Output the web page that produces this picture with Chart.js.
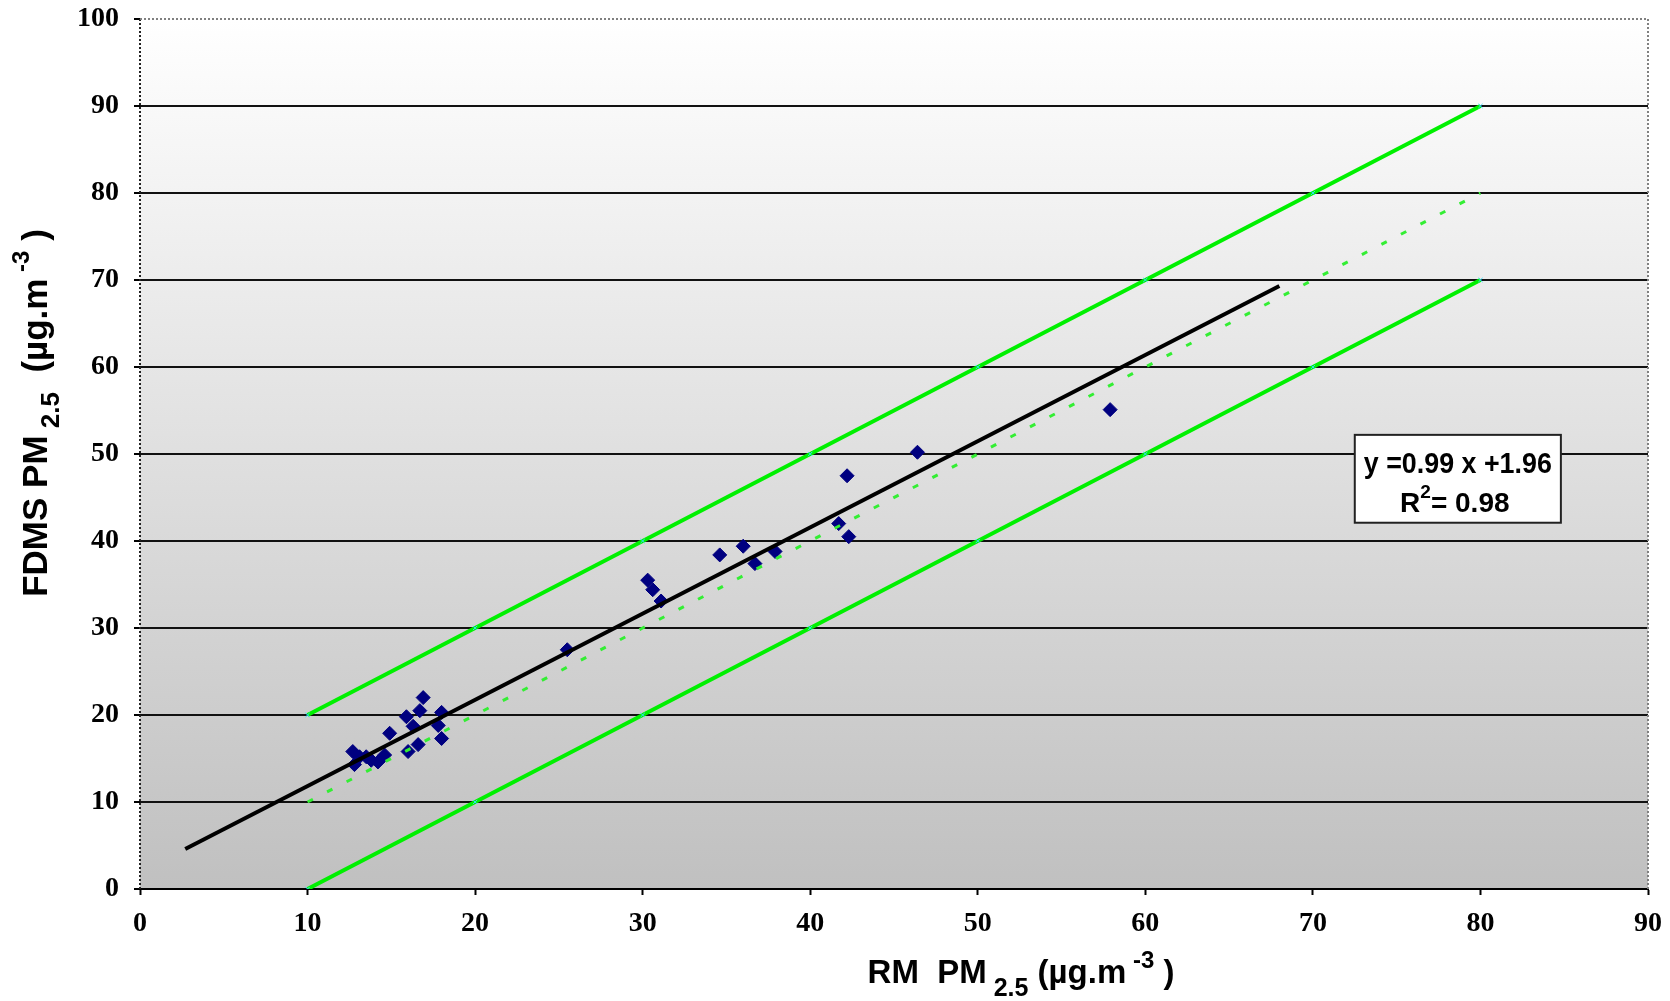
<!DOCTYPE html>
<html>
<head>
<meta charset="utf-8">
<script src="https://cdn.jsdelivr.net/npm/chart.js@4"></script>
<style>
  html, body { margin: 0; padding: 0; background: #fff; }
  #wrap { width: 1670px; height: 1001px; }
</style>
</head>
<body>
<div id="wrap"><canvas id="myChart" width="1670" height="1001"></canvas></div>
<script>
// RM vs FDMS PM2.5 measurements
var rmX = [12.7, 13.1, 12.8, 13.5, 13.8, 14.2, 14.6, 14.9, 15.9, 16.0, 16.3, 16.6, 16.7, 16.9, 17.8, 18.0, 18.0,
    25.5, 30.3, 30.6, 31.1, 34.6, 36.0, 36.7, 37.9, 41.7, 42.2, 42.3, 46.4, 57.9];
var fdmsY = [15.8, 15.2, 14.3, 15.2, 14.8, 14.6, 15.4, 17.9, 19.8, 15.8, 18.7, 16.6, 20.5, 22.0, 18.8, 20.3, 17.3,
    27.5, 35.5, 34.4, 33.1, 38.4, 39.4, 37.4, 38.8, 42.0, 47.5, 40.5, 50.2, 55.1];

// regression line ends
var fitX = [2.7, 68.0];
var fitY = [4.6, 69.3];

// 1:1 line and +/-10 band
var bandX = [10, 20, 30, 40, 50, 60, 70, 80];
var upperY = [20, 30, 40, 50, 60, 70, 80, 90];
var lowerY = [0, 10, 20, 30, 40, 50, 60, 70];
var equalY = [10, 20, 30, 40, 50, 60, 70, 80];

var xTicks = [0, 10, 20, 30, 40, 50, 60, 70, 80, 90];
var yTicks = [0, 10, 20, 30, 40, 50, 60, 70, 80, 90, 100];

var eqLine1 = "y =0.99 x +1.96";
var eqLine2 = ["R", "2", "= 0.98"];

function pts(xs, ys) {
    return xs.map(function (x, i) { return {x: x, y: ys[i]}; });
}

var sans = "'Liberation Sans', Arial, sans-serif";
var serif = "'Liberation Serif', 'Times New Roman', serif";

function drawRich(ctx, parts, cx, cy) {
    var total = 0;
    parts.forEach(function (p) {
        ctx.font = "bold " + p.size + "px " + sans;
        p.w = ctx.measureText(p.t).width;
        total += p.w;
    });
    var x = cx - total / 2;
    ctx.textBaseline = "alphabetic";
    ctx.textAlign = "left";
    parts.forEach(function (p) {
        ctx.font = "bold " + p.size + "px " + sans;
        ctx.fillText(p.t, x, cy + (p.dy || 0));
        x += p.w;
    });
}

function noPad(s) {
    s.paddingTop = 0;
    s.paddingBottom = 0;
    s.paddingLeft = 0;
    s.paddingRight = 0;
}

var decor = {
    id: 'decor',
    beforeDraw: function (chart) {
        var c = chart.ctx, a = chart.chartArea;
        c.save();
        c.fillStyle = "#fff";
        c.fillRect(0, 0, chart.width, chart.height);
        var g = c.createLinearGradient(0, a.top, 0, a.bottom);
        g.addColorStop(0, "#ffffff");
        g.addColorStop(1, "#c0c0c0");
        c.fillStyle = g;
        c.fillRect(a.left, a.top, a.right - a.left, a.bottom - a.top);
        c.restore();
    },
    afterDraw: function (chart) {
        var c = chart.ctx, a = chart.chartArea;
        var xs = chart.scales.x, ys = chart.scales.y;
        c.save();
        // dotted frame: left axis, top, right
        c.lineWidth = 2;
        c.setLineDash([2, 2]);
        c.strokeStyle = "#222";
        c.beginPath();
        c.moveTo(a.left, a.bottom);
        c.lineTo(a.left, a.top);
        c.stroke();
        c.strokeStyle = "#808080";
        c.beginPath();
        c.moveTo(a.left, a.top);
        c.lineTo(a.right, a.top);
        c.lineTo(a.right, a.bottom);
        c.stroke();
        c.setLineDash([]);

        // equation box
        var bl = xs.getPixelForValue(72.5), br = xs.getPixelForValue(84.8);
        var bt = ys.getPixelForValue(52.2), bb = ys.getPixelForValue(42.1);
        c.fillStyle = "#fff";
        c.fillRect(bl, bt, br - bl, bb - bt);
        c.strokeStyle = "#222";
        c.lineWidth = 2;
        c.strokeRect(bl, bt, br - bl, bb - bt);
        c.fillStyle = "#000";
        c.font = "bold 29px " + sans;
        c.textAlign = "center";
        c.textBaseline = "alphabetic";
        var mid = (bl + br) / 2;
        c.fillText(eqLine1, mid, bt + 38, 188);
        drawRich(c, [{t: eqLine2[0], size: 28}, {t: eqLine2[1], size: 19, dy: -14}, {t: eqLine2[2], size: 28}], mid - 3, bt + 77);

        // axis titles
        c.fillStyle = "#000";
        drawRich(c, [
            {t: "RM  PM", size: 33},
            {t: " 2.5", size: 25, dy: 13},
            {t: " (\u00b5g.m", size: 33},
            {t: " -3", size: 24, dy: -15},
            {t: " )", size: 33}
        ], a.left + 881, 983);

        c.translate(47, 413);
        c.rotate(-Math.PI / 2);
        drawRich(c, [
            {t: "FDMS PM", size: 35},
            {t: " 2.5", size: 26, dy: 12},
            {t: "  (\u00b5g.m", size: 35},
            {t: " -3", size: 24, dy: -18},
            {t: " )", size: 35}
        ], 0, 0);
        c.restore();
    }
};

var ctx = document.getElementById("myChart");
var myChart = new Chart(ctx, {
    type: 'scatter',
    data: {
        datasets: [
            {
                label: 'upper',
                data: pts(bandX, upperY),
                showLine: true,
                borderColor: '#00f000',
                borderWidth: 4,
                pointStyle: 'crossRot',
                pointRadius: 3,
                pointBorderColor: '#33e0ff',
                pointBorderWidth: 1,
                order: 1
            },
            {
                label: 'lower',
                data: pts(bandX, lowerY),
                showLine: true,
                borderColor: '#00f000',
                borderWidth: 4,
                pointStyle: 'crossRot',
                pointRadius: 3,
                pointBorderColor: '#33e0ff',
                pointBorderWidth: 1,
                order: 2
            },
            {
                label: '1:1',
                data: pts(bandX, equalY),
                showLine: true,
                borderColor: '#33ee33',
                borderWidth: 3,
                borderDash: [6, 16],
                pointRadius: 0,
                order: 3
            },
            {
                label: 'fit',
                data: pts(fitX, fitY),
                showLine: true,
                borderColor: '#000',
                borderWidth: 4,
                pointRadius: 0,
                order: 4
            },
            {
                label: 'FDMS',
                data: pts(rmX, fdmsY),
                pointStyle: 'rectRot',
                pointRadius: 7,
                backgroundColor: '#000080',
                borderColor: '#000080',
                borderWidth: 1,
                order: 5
            }
        ]
    },
    options: {
        responsive: false,
        animation: false,
        layout: {padding: {top: 19, right: 22, left: 0, bottom: 0}},
        plugins: {
            legend: {display: false},
            tooltip: {enabled: false}
        },
        scales: {
            x: {
                type: 'linear',
                min: 0,
                max: 90,
                afterBuildTicks: function (s) { s.ticks = xTicks.map(function (v) { return {value: v}; }); },
                afterFit: function (s) { s.height = 112; noPad(s); },
                border: {display: true, color: '#000', width: 2},
                grid: {drawOnChartArea: false, drawTicks: true, tickLength: 6, tickColor: '#000', tickWidth: 2},
                ticks: {color: '#000', padding: 12, maxRotation: 0, font: {family: serif, size: 28, weight: 'bold'}}
            },
            y: {
                type: 'linear',
                min: 0,
                max: 100,
                afterBuildTicks: function (s) { s.ticks = yTicks.map(function (v) { return {value: v}; }); },
                afterFit: function (s) { s.width = 140; noPad(s); },
                border: {display: false},
                grid: {
                    color: function (c) {
                        return (c.tick && (c.tick.value === 0 || c.tick.value === 100)) ? 'rgba(0,0,0,0)' : '#111';
                    },
                    lineWidth: 2,
                    tickLength: 6,
                    tickColor: '#000',
                    tickWidth: 2
                },
                ticks: {color: '#000', padding: 15, font: {family: serif, size: 28, weight: 'bold'}}
            }
        }
    },
    plugins: [decor]
});
</script>
</body>
</html>
